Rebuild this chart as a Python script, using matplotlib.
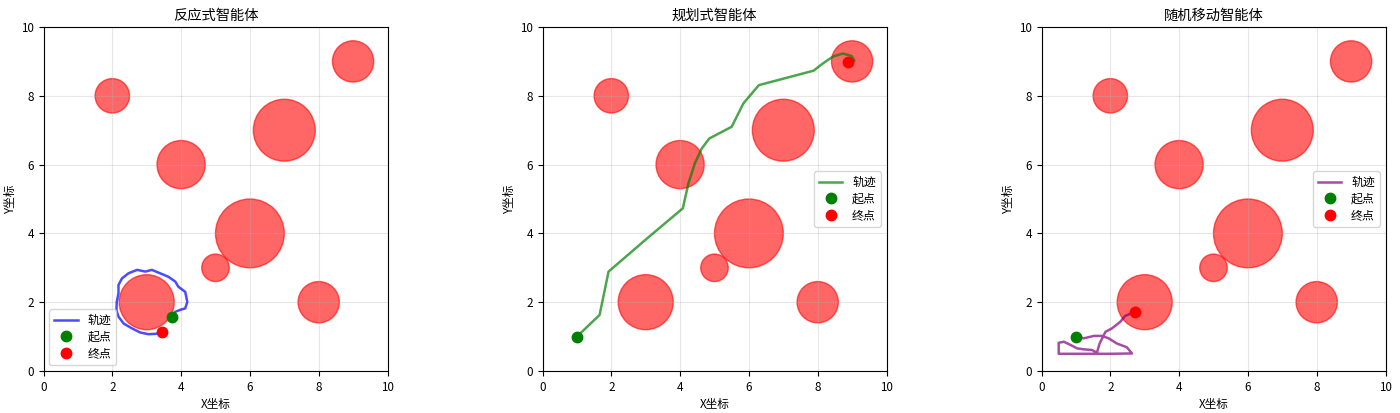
import matplotlib
matplotlib.use("Agg")
import matplotlib.pyplot as plt
from matplotlib.patches import Circle

plt.rcParams['font.family'] = ['Noto Sans CJK SC', 'DejaVu Sans']
plt.rcParams['axes.unicode_minus'] = False

# Obstacles (x, y, radius)
obs_x = [2, 4, 7, 6, 3, 5, 8, 9]
obs_y = [8, 6, 7, 4, 2, 3, 2, 9]
obs_r = [0.5, 0.7, 0.9, 1.0, 0.8, 0.4, 0.6, 0.6]

titles = ['反应式智能体', '规划式智能体', '随机移动智能体']
line_colors = ['blue', 'green', 'purple']

# Reactive agent trajectory
react_x = [3.73, 3.83, 3.98, 4.12, 4.18, 4.12, 3.92, 3.83, 3.63, 3.39, 3.15, 2.96,
           2.72, 2.47, 2.28, 2.18, 2.18, 2.13, 2.12, 2.18, 2.33, 2.57, 2.81, 3.05,
           3.25, 3.44]
react_y = [1.58, 1.72, 1.78, 1.82, 2.01, 2.30, 2.45, 2.60, 2.74, 2.84, 2.94, 2.89,
           2.94, 2.84, 2.69, 2.50, 2.26, 2.01, 1.77, 1.58, 1.38, 1.24, 1.12, 1.07,
           1.08, 1.12]
react_start = (3.73, 1.58)
react_end = (3.44, 1.12)

# Planning agent trajectory
plan_x = [1.00, 1.66, 1.92, 3.00, 4.08, 4.24, 4.43, 4.63, 4.85, 5.50, 5.84, 6.29,
          7.88, 8.15, 8.44, 8.73, 8.98, 9.07, 9.00]
plan_y = [1.00, 1.63, 2.89, 3.82, 4.73, 5.45, 6.04, 6.47, 6.76, 7.10, 7.78, 8.31,
          8.73, 8.94, 9.14, 9.23, 9.16, 9.02, 8.98]
plan_start = (1.0, 1.0)
plan_end = (8.88, 8.97)

# Random agent trajectory
rand_x = [1.00, 1.23, 1.52, 1.76, 1.95, 2.19, 2.48, 2.63, 2.00, 1.20, 0.50, 0.50,
          0.65, 0.84, 1.03, 1.22, 1.47, 1.61, 1.69, 1.86, 2.05, 2.29, 2.43, 2.71]
rand_y = [1.00, 0.95, 1.02, 1.02, 0.95, 0.80, 0.69, 0.51, 0.50, 0.50, 0.50, 0.82,
          0.85, 0.76, 0.66, 0.63, 0.61, 0.53, 0.80, 1.14, 1.24, 1.43, 1.60, 1.72]
rand_start = (1.0, 1.0)
rand_end = (2.71, 1.72)

paths = [(react_x, react_y, react_start, react_end),
         (plan_x, plan_y, plan_start, plan_end),
         (rand_x, rand_y, rand_start, rand_end)]
legend_locs = ['lower left', 'center right', 'center right']

fig = plt.figure(figsize=(14, 4.13), dpi=100)
lefts = [43 / 1400, 542 / 1400, 1041 / 1400]
for i in range(3):
    ax = fig.add_axes([lefts[i], 42 / 413, 345 / 1400, 344 / 413])
    for ox, oy, r in zip(obs_x, obs_y, obs_r):
        ax.add_patch(Circle((ox, oy), r, color='red', alpha=0.6))
    px, py, s, e = paths[i]
    ax.plot(px, py, color=line_colors[i], alpha=0.7, linewidth=1.8, label='轨迹')
    ax.plot(s[0], s[1], 'o', color='green', markersize=7.5, label='起点')
    ax.plot(e[0], e[1], 'o', color='red', markersize=7.5, label='终点')
    ax.set_xlim(0, 10)
    ax.set_ylim(0, 10)
    ax.set_aspect('equal')
    ax.grid(True, alpha=0.3)
    ax.tick_params(labelsize=8.4)
    ax.set_title(titles[i], fontsize=10.3, pad=5)
    ax.set_xlabel('X坐标', fontsize=8.4, labelpad=3)
    ax.set_ylabel('Y坐标', fontsize=8.4, labelpad=3)
    ax.legend(loc=legend_locs[i], fontsize=8.6, labelspacing=0.3)

fig.savefig('out.png', dpi=100)
